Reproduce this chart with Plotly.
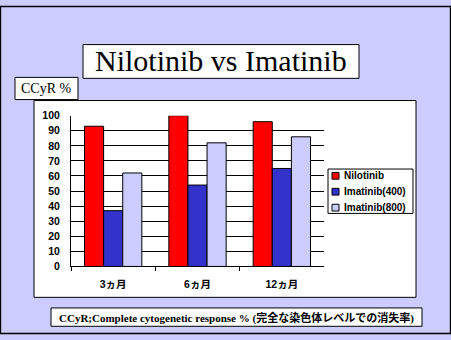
import plotly.graph_objects as go

W, H = 451, 340

categories = ["3ヵ月", "6ヵ月", "12ヵ月"]
nilotinib = [93, 100, 96]
imatinib_400 = [37, 54, 65]
imatinib_800 = [62, 82, 86]
y_ticks = list(range(0, 101, 10))

series = [
    ("Nilotinib", nilotinib, "#FF0000"),
    ("Imatinib(400)", imatinib_400, "#3333CC"),
    ("Imatinib(800)", imatinib_800, "#CCCCFF"),
]


def px_x(v):
    return v / W


def px_y(v):
    return 1 - v / H


fig = go.Figure()
for name, vals, color in series:
    fig.add_trace(go.Bar(
        x=categories, y=vals, name=name, showlegend=False,
        marker=dict(color=color, line=dict(color="black", width=1)),
    ))


def box(x0, y0, x1, y1, width=1, layer="below", fill="white"):
    return dict(type="rect", xref="paper", yref="paper",
                x0=px_x(x0), x1=px_x(x1), y0=px_y(y1), y1=px_y(y0),
                line=dict(color="black", width=width),
                fillcolor=fill, layer=layer)


shapes = [
    box(34, 98, 416, 302),          # chart frame
    box(83, 40, 359, 75),           # title frame
    box(15, 74, 78, 97),            # unit label frame
    box(51, 313, 422, 332),         # footnote frame
    box(328, 169, 413, 215, layer="above"),   # legend frame
    dict(type="rect", xref="paper", yref="paper", x0=0.001, x1=0.999,
         y0=0.0015, y1=0.9985, line=dict(color="black", width=1.5),
         fillcolor="rgba(0,0,0,0)", layer="above"),
]


def label(text, x, y, size, family, xanchor="center", bold=False):
    return dict(text=text, xref="paper", yref="paper",
                x=px_x(x), y=px_y(y), xanchor=xanchor, yanchor="middle",
                showarrow=False,
                font=dict(family=family, size=size, color="black",
                          weight="bold" if bold else "normal"))


annotations = [
    label("Nilotinib vs Imatinib", 221, 57, 30, "Liberation Serif"),
    label("CCyR %", 46.5, 86, 14, "Liberation Serif"),
    label("CCyR;Complete cytogenetic response % (完全な染色体レベルでの消失率)",
          236.5, 323, 11, "Liberation Serif, Noto Sans CJK JP", bold=True),
]

# legend: swatch plus name for each series
row_y = [176, 192.5, 209]
for (name, _, color), ry in zip(series, row_y):
    shapes.append(dict(type="rect", xref="paper", yref="paper",
                       x0=px_x(332), x1=px_x(339), y0=px_y(ry + 3.5), y1=px_y(ry - 3.5),
                       line=dict(color="black", width=1), fillcolor=color, layer="above"))
    annotations.append(label(name, 341.5, ry, 10, "Liberation Sans",
                             xanchor="left", bold=True))

fig.update_layout(
    width=W, height=H,
    margin=dict(l=0, r=0, t=0, b=0),
    paper_bgcolor="#CCCCFF",
    plot_bgcolor="white",
    barmode="group",
    bargap=0.32,
    bargroupgap=0,
    shapes=shapes,
    annotations=annotations,
    showlegend=False,
    font=dict(family="Liberation Sans", color="black"),
    xaxis=dict(
        domain=[px_x(71), px_x(324)],
        showline=True, linecolor="black", linewidth=1,
        ticks="outside", tickson="boundaries", ticklen=4, tickcolor="black",
        tickfont=dict(family="Liberation Sans, Noto Sans CJK JP", size=10.5, weight="bold"),
        ticklabelstandoff=8,
        showgrid=False,
    ),
    yaxis=dict(
        domain=[1 - 270 / H, 1 - 113.7 / H],
        range=[0, 100], tickvals=y_ticks,
        showline=True, linecolor="black", linewidth=1,
        showgrid=True, gridcolor="black", gridwidth=1,
        zeroline=False,
        tickfont=dict(family="Liberation Sans", size=10.5, weight="bold"),
        ticks="", ticklabelstandoff=8,
    ),
)

fig.write_html("out.html")
